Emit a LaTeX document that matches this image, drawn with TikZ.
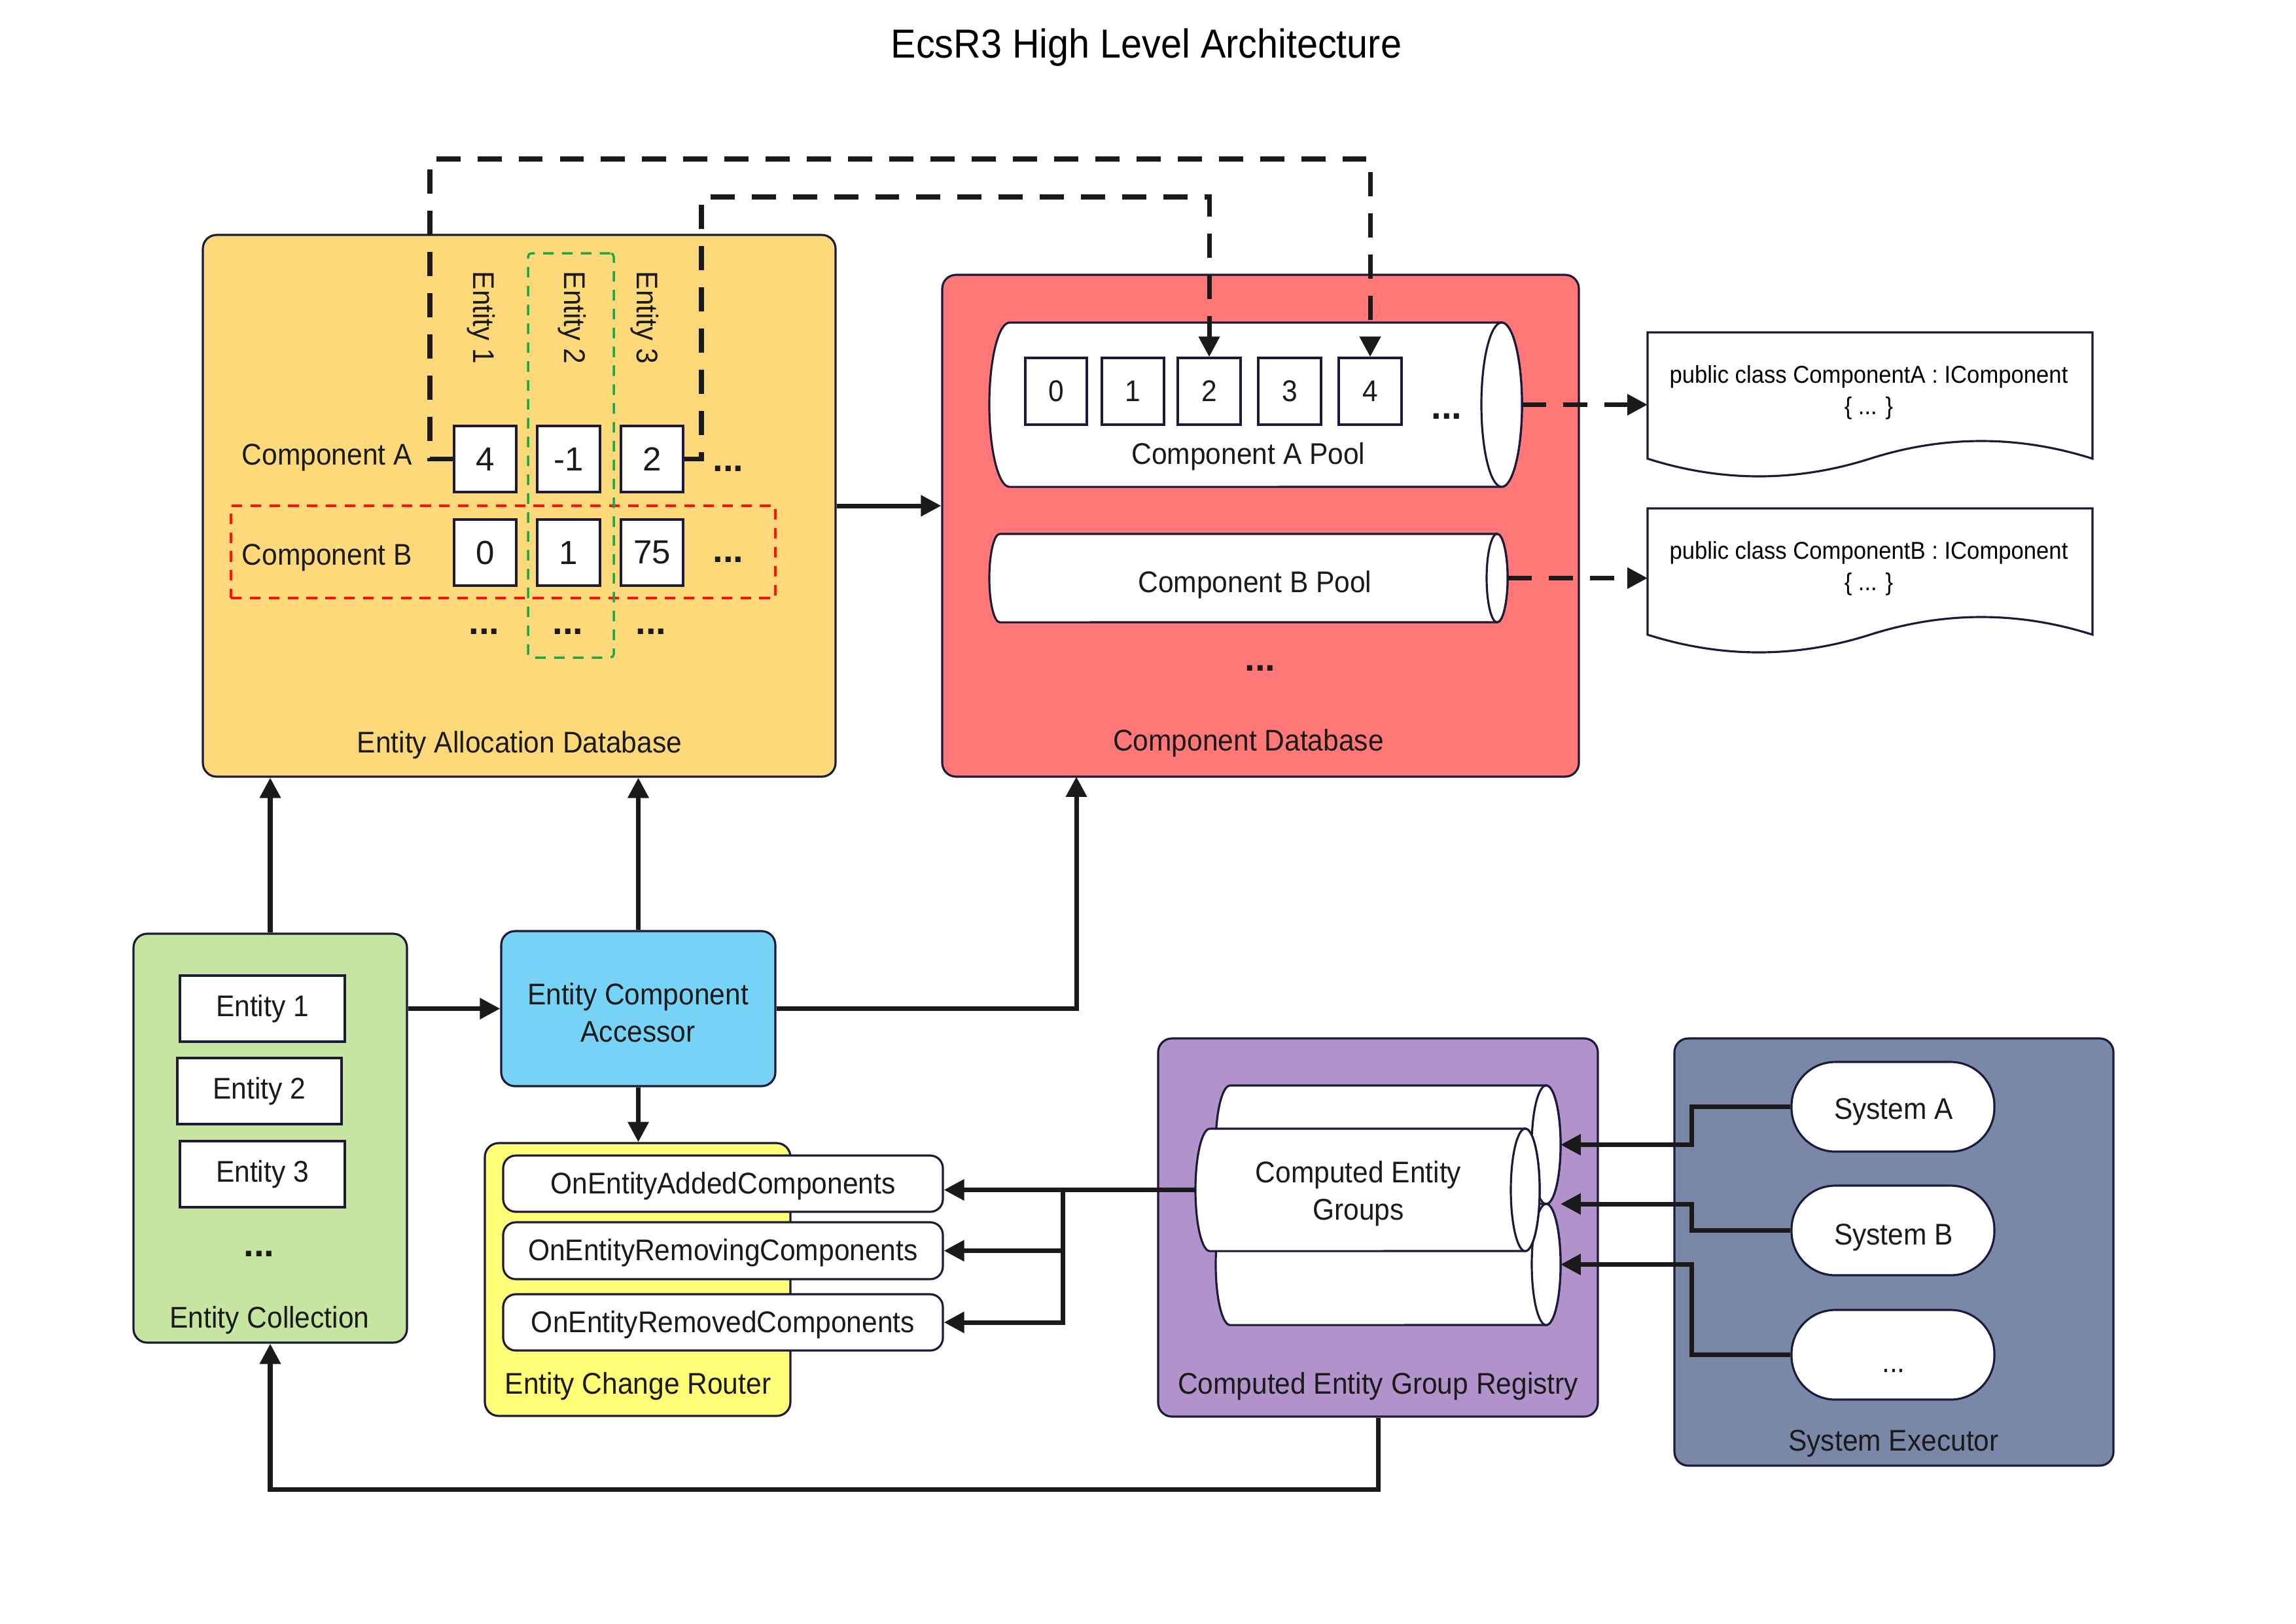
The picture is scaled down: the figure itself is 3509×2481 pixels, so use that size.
\documentclass[tikz,border=0pt]{standalone}
\usepackage{fontspec}
\setmainfont{Liberation Sans}
\newfontfamily\cndfont{Liberation Sans}[FakeStretch=0.93]
\usetikzlibrary{arrows.meta,fit,calc}
\definecolor{bordc}{HTML}{1B1A3A}
\definecolor{linec}{HTML}{1A1A1A}
\definecolor{eadc}{HTML}{FDD97A}
\definecolor{cdc}{HTML}{FF7777}
\definecolor{ecc}{HTML}{C6E5A1}
\definecolor{ecac}{HTML}{76D3F5}
\definecolor{ecrc}{HTML}{FFFF77}
\definecolor{cegc}{HTML}{B292CB}
\definecolor{sysc}{HTML}{7A88A8}
\definecolor{redd}{HTML}{FF1010}
\definecolor{grnd}{HTML}{1CA844}
\newcommand\fmain{\cndfont\fontsize{13}{16.2}\selectfont}
\newcommand\fdoc{\cndfont\fontsize{10.6}{13.7}\selectfont}
\newcommand\ftitle{\cndfont\fontsize{17.6}{21}\selectfont}
\newcommand\fcell{\fontsize{14.5}{17}\selectfont}
\newcommand\fdots{\fontsize{16}{18}\selectfont\bfseries}
\newcommand\mycyl[5]{%
  \pgfmathsetmacro\cya{(#4-#3)/200}%
  \pgfmathsetmacro\cyb{#5/100}%
  \pgfmathsetmacro\cyc{(#3+#4)/2}%
  \pgfmathsetmacro\cyd{#1+#5}%
  \filldraw[cylst] (#2,#3) -- (\cyd,#3) arc[start angle=90,end angle=270,x radius=\cyb cm,y radius=\cya cm] -- (#2,#4) arc[start angle=-90,end angle=90,x radius=\cyb cm,y radius=\cya cm] -- cycle;
  \draw[cylst] (#2,\cyc) ellipse[x radius=\cyb cm, y radius=\cya cm];
}
\begin{document}
\begin{tikzpicture}[x=0.01cm,y=-0.01cm,
  box/.style={draw=bordc, line width=0.9pt, inner sep=0pt},
  cont/.style={box, rounded corners=6pt},
  cellb/.style={box, fill=white},
  pcell/.style={box, fill=white},
  lbl/.style={font=\fmain, inner sep=0pt, text=linec},
  clbl/.style={font=\fcell, inner sep=0pt, text=linec},
  dots/.style={font=\fdots, inner sep=0pt, anchor=base, text=linec},
  conn/.style={draw=linec, line width=2pt, -{Triangle[length=8.8pt,width=8.8pt]}},
  dconn/.style={conn, dash pattern=on 10.5pt off 7.4pt},
  cylst/.style={draw=bordc, line width=0.9pt, fill=white},
  evbox/.style={box, fill=white, rounded corners=5.5pt},
  sysbox/.style={box, fill=white, rounded corners=19pt},
  hid/.style={inner sep=0pt, outer sep=0pt}
]
\useasboundingbox[fill=white] (0,0) rectangle (3509,2481);

% title
\node[font=\ftitle, anchor=base, inner sep=0pt] (title) at (1752,88) {EcsR3 High Level Architecture};

% ---------- Entity Allocation Database ----------
\node[cont, fill=eadc, fit={(310,359)(1277,1187)}] (ead) {};
\node[lbl, anchor=base] (eadl) at (794,1150) {Entity Allocation Database};
\node[lbl, rotate=-90, anchor=west] (ent1) at (735,414) {Entity 1};
\node[lbl, rotate=-90, anchor=west] (ent2) at (874,414) {Entity 2};
\node[lbl, rotate=-90, anchor=west] (ent3) at (985,414) {Entity 3};
\node[lbl, anchor=base west] (compa) at (369,710) {Component A};
\node[lbl, anchor=base west] (compb) at (369,863) {Component B};
\node[cellb, fit={(694,651)(789,752)}] (ca1) {};
\node[cellb, fit={(821,651)(917,752)}] (ca2) {};
\node[cellb, fit={(949,651)(1044,752)}] (ca3) {};
\node[cellb, fit={(694,794)(789,895)}] (cb1) {};
\node[cellb, fit={(821,794)(917,895)}] (cb2) {};
\node[cellb, fit={(949,794)(1044,895)}] (cb3) {};
\node[clbl] (ca1t) at (ca1.center) {4};
\node[clbl] (ca2t) at (ca2.center) {-1};
\node[clbl] (ca3t) at (ca3.center) {2};
\node[clbl] (cb1t) at (cb1.center) {0};
\node[clbl] (cb2t) at (cb2.center) {1};
\node[clbl] (cb3t) at (cb3.center) {75};
\node[dots] (dra) at (1113,720) {...};
\node[dots] (drb) at (1113,859) {...};
\node[dots] (dc1) at (740,969) {...};
\node[dots] (dc2) at (868,969) {...};
\node[dots] (dc3) at (995,969) {...};
\node[draw=redd, line width=1pt, dash pattern=on 4.6pt off 3.6pt, inner sep=0pt, fit={(353,773)(1185,914)}] (rowb) {};
\node[draw=grnd, line width=1pt, dash pattern=on 4.6pt off 3.6pt, rounded corners=1.5pt, inner sep=0pt, fit={(807,387)(938,1005)}] (colb) {};

% ---------- Component Database ----------
\node[cont, fill=cdc, fit={(1440,420)(2413,1187)}] (cd) {};
\node[lbl, anchor=base] (cdl) at (1908,1147) {Component Database};
\mycyl{1512}{2295}{493}{744}{31}
\node[hid, fit={(1512,493)(2326,744)}] (poolA) {};
\mycyl{1512}{2288}{816}{951}{16}
\node[hid, fit={(1512,816)(2304,951)}] (poolB) {};
\node[pcell, fit={(1567,547)(1661,649)}] (p0) {};
\node[pcell, fit={(1684,547)(1779,649)}] (p1) {};
\node[pcell, fit={(1800,547)(1896,649)}] (p2) {};
\node[pcell, fit={(1923,547)(2019,649)}] (p3) {};
\node[pcell, fit={(2046,547)(2142,649)}] (p4) {};
\node[lbl] (p0t) at (p0.center) {0};
\node[lbl] (p1t) at (p1.center) {1};
\node[lbl] (p2t) at (p2.center) {2};
\node[lbl] (p3t) at (p3.center) {3};
\node[lbl] (p4t) at (p4.center) {4};
\node[dots] (pdots) at (2211,640) {...};
\node[lbl, anchor=base] (poolAl) at (1908,709) {Component A Pool};
\node[lbl, anchor=base] (poolBl) at (1918,905) {Component B Pool};
\node[dots] (cddots) at (1926,1025) {...};

% ---------- documents ----------
\filldraw[box, fill=white] (2518,508) -- (3198,508) -- (3198,701) .. controls (3085,665) and (2971,665) .. (2858,701) .. controls (2745,737) and (2631,737) .. (2518,701) -- cycle;
\node[hid, fit={(2518,508)(3198,701)}] (docA) {};
\node[font=\fdoc, align=center, inner sep=0pt] (docAt) at (2856,600) {public class ComponentA : IComponent\\\{ ... \}};
\filldraw[box, fill=white] (2518,777) -- (3198,777) -- (3198,970) .. controls (3085,934) and (2971,934) .. (2858,970) .. controls (2745,1006) and (2631,1006) .. (2518,970) -- cycle;
\node[hid, fit={(2518,777)(3198,970)}] (docB) {};
\node[font=\fdoc, align=center, inner sep=0pt] (docBt) at (2856,869) {public class ComponentB : IComponent\\\{ ... \}};

% ---------- Entity Collection ----------
\node[cont, fill=ecc, fit={(204,1427)(622,2052)}] (ec) {};
\node[box, fill=white, fit={(275,1491)(527,1592)}] (ee1) {};
\node[box, fill=white, fit={(271,1617)(522,1718)}] (ee2) {};
\node[box, fill=white, fit={(275,1744)(527,1845)}] (ee3) {};
\node[lbl] (ee1t) at (ee1.center) {Entity 1};
\node[lbl] (ee2t) at (ee2.center) {Entity 2};
\node[lbl] (ee3t) at (ee3.center) {Entity 3};
\node[dots] (ecdots) at (396,1920) {...};
\node[lbl, anchor=base] (ecl) at (412,2029) {Entity Collection};

% ---------- Entity Component Accessor ----------
\node[cont, fill=ecac, fit={(766,1423)(1185,1660)}] (eca) {};
\node[lbl, align=center] (ecal) at (975,1548) {Entity Component\\Accessor};

% ---------- Entity Change Router ----------
\node[cont, fill=ecrc, fit={(741,1747)(1208,2164)}] (ecr) {};
\node[evbox, fit={(769,1766)(1441,1852)}] (ev1) {};
\node[evbox, fit={(769,1868)(1441,1955)}] (ev2) {};
\node[evbox, fit={(769,1978)(1441,2064)}] (ev3) {};
\node[lbl] (ev1t) at (1105,1813) {OnEntityAddedComponents};
\node[lbl] (ev2t) at (1105,1915) {OnEntityRemovingComponents};
\node[lbl] (ev3t) at (1105,2025) {OnEntityRemovedComponents};
\node[lbl, anchor=base] (ecrl) at (975,2130) {Entity Change Router};

% ---------- Computed Entity Group Registry ----------
\node[cont, fill=cegc, fit={(1770,1587)(2442,2165)}] (cegr) {};
\mycyl{1858}{2363}{1659}{1840}{22}
\node[hid, fit={(1858,1659)(2385,1840)}] (cegT) {};
\mycyl{1858}{2363}{1840}{2025}{22}
\node[hid, fit={(1858,1840)(2385,2025)}] (cegB) {};
\coordinate (cegM) at (2385,1840);
\mycyl{1827}{2331}{1725}{1912}{22}
\node[hid, fit={(1827,1725)(2353,1912)}] (ceg) {};
\node[lbl, align=center] (cegl) at (2076,1824) {Computed Entity\\Groups};
\node[lbl, anchor=base] (cegrl) at (2106,2130) {Computed Entity Group Registry};

% ---------- System Executor ----------
\node[cont, fill=sysc, fit={(2559,1587)(3230,2240)}] (se) {};
\node[sysbox, fit={(2738,1623)(3048,1760)}] (sa) {};
\node[sysbox, fit={(2738,1812)(3048,1949)}] (sb) {};
\node[sysbox, fit={(2738,2002)(3048,2139)}] (sc) {};
\node[lbl, anchor=base] (sat) at (2894,1710) {System A};
\node[lbl, anchor=base] (sbt) at (2894,1902) {System B};
\node[lbl, anchor=base] (sct) at (2894,2097) {...};
\node[lbl, anchor=base] (sel) at (2894,2217) {System Executor};

% ---------- connectors ----------
\coordinate (cdb) at (1645,1187);
\coordinate (jn) at (1624,1818);
\coordinate (sx) at (2585,1700);
\coordinate (bot) at (2106,2276);
\coordinate (d1) at (657,243);
\coordinate (d2) at (1072,301);

\draw[conn] (ead.east) -- (ead.east -| cd.west);
\draw[conn] (ec.north) -- (ec.north |- ead.south);
\draw[conn] (eca.west -| ec.east) -- (eca.west);
\draw[conn] (eca.north) -- (eca.north |- ead.south);
\draw[conn] (eca.east) -| (cdb);
\draw[conn] (eca.south) -- (eca.south |- ecr.north);
\draw[conn] (ceg.west) -- (ceg.west -| ev1.east);
\draw[conn] (jn) |- (ev2.east);
\draw[conn] (jn) |- (ev3.east);
\draw[conn] (sa.west) -- (sa.west -| sx) |- (cegT.east);
\draw[conn] (sb.west) -- (sb.west -| sx) |- (cegM);
\draw[conn] (sc.west) -- (sc.west -| sx) |- (cegB.east);
\draw[conn] (cegr.south) -- (cegr.south |- bot) -| (ec.south);

\draw[dconn] (ca1.west) -| (d1) -| (p4.north);
\draw[dconn] (ca3.east) -| (d2) -| (p2.north);
\draw[dconn] (poolA.east) -- (poolA.east -| docA.west);
\draw[dconn] (poolB.east) -- (poolB.east -| docB.west);
\end{tikzpicture}
\end{document}
